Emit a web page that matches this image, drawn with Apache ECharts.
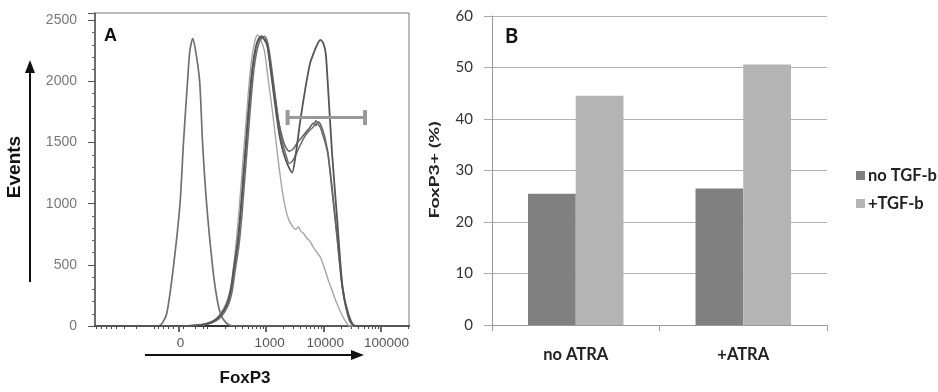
<!DOCTYPE html>
<html><head><meta charset="utf-8">
<script src="https://cdn.jsdelivr.net/npm/echarts@6/dist/echarts.min.js"></script>
<style>html,body{margin:0;padding:0;background:#fff}#c{width:938px;height:392px}</style>
</head><body><div id="c"></div>
<script>
// ---------- Panel A: FoxP3 histogram (x in display decades, 1000 ≈ 2.95) ----------
const ctrlX = [0, 1.05, 1.14, 1.24, 1.36, 1.47, 1.53, 1.60, 1.64, 1.69, 1.74, 1.81, 1.86, 1.93, 2.03, 2.10, 2.17, 2.26, 2.38, 5.43];
const ctrlY = [0, 0, 10, 100, 500, 1000, 1500, 2000, 2250, 2350, 2250, 2000, 1500, 1000, 500, 250, 100, 30, 0, 0];

const lightX = [0, 1.45, 1.70, 1.90, 2.05, 2.17, 2.28, 2.35, 2.40, 2.45, 2.50, 2.55, 2.60, 2.65, 2.70, 2.76, 2.81, 2.86, 2.93, 3.00, 3.07, 3.12, 3.17, 3.24, 3.30, 3.35, 3.41, 3.47, 3.52, 3.55, 3.60, 3.66, 3.72, 3.78, 3.84, 3.90, 3.97, 4.03, 4.10, 4.17, 4.26, 4.33, 4.40, 5.43];
const lightY = [0, 0, 5, 18, 45, 100, 200, 330, 500, 730, 1000, 1300, 1600, 1900, 2150, 2320, 2380, 2350, 2250, 2000, 1750, 1550, 1350, 1100, 950, 870, 820, 790, 810, 780, 760, 720, 690, 640, 600, 560, 470, 380, 290, 200, 100, 40, 0, 0];

const midX = [0, 1.50, 1.74, 1.91, 2.05, 2.17, 2.28, 2.35, 2.40, 2.47, 2.52, 2.57, 2.62, 2.67, 2.72, 2.78, 2.83, 2.88, 2.93, 2.98, 3.03, 3.09, 3.14, 3.19, 3.24, 3.29, 3.36, 3.43, 3.50, 3.57, 3.64, 3.71, 3.78, 3.82, 3.86, 3.90, 3.94, 3.98, 4.03, 4.10, 4.19, 4.28, 4.40, 4.50, 5.43];
const midY = [0, 0, 4, 14, 38, 85, 170, 290, 450, 680, 930, 1230, 1530, 1830, 2090, 2270, 2340, 2360, 2350, 2300, 2150, 1950, 1780, 1640, 1540, 1470, 1430, 1450, 1500, 1540, 1580, 1620, 1660, 1640, 1670, 1650, 1600, 1530, 1410, 1130, 725, 320, 50, 0, 0];

const mid2X = [0, 1.52, 1.76, 1.93, 2.07, 2.19, 2.30, 2.37, 2.42, 2.49, 2.54, 2.59, 2.64, 2.69, 2.74, 2.80, 2.86, 2.93, 2.98, 3.03, 3.08, 3.14, 3.19, 3.24, 3.29, 3.36, 3.43, 3.50, 3.57, 3.64, 3.71, 3.78, 3.82, 3.86, 3.90, 3.94, 3.98, 4.03, 4.10, 4.19, 4.28, 4.40, 4.50, 5.43];
const mid2Y = [0, 0, 4, 13, 36, 80, 165, 280, 440, 660, 900, 1200, 1500, 1800, 2060, 2250, 2340, 2370, 2330, 2200, 2020, 1800, 1620, 1500, 1420, 1330, 1360, 1430, 1500, 1560, 1600, 1630, 1680, 1650, 1620, 1560, 1500, 1400, 1100, 700, 300, 45, 0, 0];

const darkX = [0, 1.48, 1.74, 1.91, 2.05, 2.17, 2.28, 2.35, 2.40, 2.47, 2.52, 2.57, 2.62, 2.67, 2.72, 2.78, 2.83, 2.88, 2.93, 2.98, 3.03, 3.09, 3.14, 3.19, 3.24, 3.29, 3.35, 3.41, 3.47, 3.55, 3.64, 3.72, 3.78, 3.84, 3.90, 3.95, 3.99, 4.03, 4.10, 4.19, 4.28, 4.38, 4.50, 5.43];
const darkY = [0, 0, 5, 15, 40, 90, 180, 300, 470, 700, 950, 1250, 1550, 1850, 2100, 2280, 2350, 2370, 2340, 2290, 2120, 1900, 1720, 1560, 1450, 1370, 1300, 1255, 1400, 1680, 1950, 2150, 2230, 2300, 2340, 2310, 2230, 1950, 1410, 860, 320, 100, 0, 0];

// gate marker (FoxP3+ region)
const gateX = [3.33, 4.67];
const gateY = [1705, 1705];

// x axis ticks / labels (biexponential display)
const xMajorTicks = [1.45, 2.95, 3.95, 4.95];
const xLabelPos = [1.48, 3.02, 3.98, 5.04];
const xLabelText = ['0', '1000', '10000', '100000'];
const xMinorTicks = [0.017, 0.103, 0.190, 0.276, 0.362, 0.5, 0.707, 1.017, 1.086, 1.172, 1.259, 1.345,
  1.534, 1.741, 1.879, 1.948, 2.249, 2.425, 2.550, 2.647, 2.726, 2.793, 2.851, 2.902,
  3.251, 3.427, 3.552, 3.649, 3.728, 3.795, 3.853, 3.904,
  4.251, 4.427, 4.552, 4.649, 4.728, 4.795, 4.853, 4.904, 5.41];

// ---------- Panel B: FoxP3+ (%) bars ----------
const barCategories = ['no ATRA', '+ATRA'];
const noTGF = [25.5, 26.5];
const plusTGF = [44.5, 50.6];

const zip = (xs, ys) => xs.map((x, i) => [x, ys[i]]);

const fA = '"Liberation Sans", Arial, sans-serif';
const fB = 'Lato, "Open Sans", sans-serif';

const chart = echarts.init(document.getElementById('c'), null, {renderer: 'canvas'});

const lineSeries = (name, xs, ys, color, w) => ({
  name, type: 'line', xAxisIndex: 0, yAxisIndex: 0, data: zip(xs, ys),
  showSymbol: false, smooth: 0.25, lineStyle: {color, width: w}, itemStyle: {color}, z: 3
});

chart.setOption({
  animation: false,
  backgroundColor: '#fff',
  grid: [
    {left: 95, top: 13, width: 314, height: 313, show: true, borderColor: '#777', borderWidth: 1, backgroundColor: '#fff'},
    {left: 492, top: 16, width: 335, height: 309}
  ],
  xAxis: [
    {type: 'value', gridIndex: 0, min: 0, max: 5.43, position: 'bottom',
     axisLine: {show: true, onZero: false, lineStyle: {color: '#333', width: 2}},
     axisTick: {show: true, customValues: xMajorTicks, length: 6, lineStyle: {color: '#333', width: 1.5}},
     axisLabel: {show: true, customValues: xLabelPos, margin: 10, color: '#555', fontSize: 13.5, fontFamily: fA,
       formatter: v => { const i = xLabelPos.findIndex(p => Math.abs(p - v) < 1e-6); return i >= 0 ? xLabelText[i] : ''; }},
     splitLine: {show: false}},
    {type: 'value', gridIndex: 0, min: 0, max: 5.43, position: 'bottom', offset: 0,
     axisLine: {show: false},
     axisTick: {show: true, customValues: xMinorTicks, length: 3, lineStyle: {color: '#444', width: 1}},
     axisLabel: {show: false}, splitLine: {show: false}},
    {type: 'category', gridIndex: 1, data: barCategories,
     axisLine: {show: true, lineStyle: {color: '#999'}},
     axisTick: {show: true, length: 6, lineStyle: {color: '#999'}},
     axisLabel: {margin: 21, color: '#222', fontSize: 16.5, fontWeight: 'bold', fontFamily: fB}}
  ],
  yAxis: [
    {type: 'value', gridIndex: 0, min: 0, max: 2560, interval: 500,
     axisLine: {show: true, lineStyle: {color: '#555', width: 1.5}},
     axisTick: {show: true, length: 7, lineStyle: {color: '#555'}},
     minorTick: {show: true, splitNumber: 5, length: 3, lineStyle: {color: '#666'}},
     axisLabel: {margin: 18, color: '#777', fontSize: 14, fontFamily: fA, showMaxLabel: false,
       formatter: v => String(v)},
     splitLine: {show: false}},
    {type: 'value', gridIndex: 1, min: 0, max: 60, interval: 10,
     axisLine: {show: true, lineStyle: {color: '#999'}},
     axisTick: {show: true, length: 8, lineStyle: {color: '#aaa'}},
     axisLabel: {margin: 19, color: '#333', fontSize: 15, fontFamily: fB},
     splitLine: {show: true, lineStyle: {color: '#b0b0b0', width: 1}}}
  ],
  legend: {
    data: ['no TGF-b', '+TGF-b'], orient: 'vertical', left: 851, top: 162, itemGap: 11,
    itemWidth: 9, itemHeight: 9, icon: 'rect',
    textStyle: {color: '#222', fontSize: 16.5, fontWeight: 'bold', fontFamily: fB, padding: [0, 0, 0, -2]}
  },
  series: [
    lineSeries('ctrl', ctrlX, ctrlY, '#707070', 1.7),
    lineSeries('light', lightX, lightY, '#a5a5a5', 1.4),
    lineSeries('mid2', mid2X, mid2Y, '#6e6e6e', 1.5),
    lineSeries('mid', midX, midY, '#666', 1.6),
    lineSeries('dark', darkX, darkY, '#555', 1.8),
    {name: 'gate', type: 'line', xAxisIndex: 0, yAxisIndex: 0, data: zip(gateX, gateY),
     symbol: 'rect', symbolSize: [4, 15], showSymbol: true,
     lineStyle: {color: '#999', width: 3}, itemStyle: {color: '#999'}, z: 4},
    {name: 'no TGF-b', type: 'bar', xAxisIndex: 2, yAxisIndex: 1, data: noTGF,
     barGap: '0%', barCategoryGap: '43%', itemStyle: {color: '#808080'}},
    {name: '+TGF-b', type: 'bar', xAxisIndex: 2, yAxisIndex: 1, data: plusTGF,
     barGap: '0%', barCategoryGap: '43%', itemStyle: {color: '#b4b4b4'}}
  ],
  graphic: [
    {type: 'text', left: 104, top: 27, style: {text: 'A', font: 'bold 18px ' + fA, fill: '#111'}},
    {type: 'text', left: 505, top: 27, style: {text: 'B', font: 'bold 20px ' + fB, fill: '#111'}},
    {type: 'text', x: 15, y: 167, rotation: Math.PI / 2,
     style: {text: 'Events', font: 'bold 19px ' + fA, fill: '#111', align: 'center', verticalAlign: 'middle'}},
    {type: 'text', x: 245, y: 378,
     style: {text: 'FoxP3', font: 'bold 17px ' + fA, fill: '#111', align: 'center', verticalAlign: 'middle'}},
    {type: 'text', x: 435, y: 170, rotation: Math.PI / 2, scaleX: 1.5,
     style: {text: 'FoxP3+ (%)', font: 'bold 13px ' + fB, fill: '#222', align: 'center', verticalAlign: 'middle'}},
    {type: 'line', shape: {x1: 30, y1: 282, x2: 30, y2: 70}, style: {stroke: '#111', lineWidth: 2}},
    {type: 'polygon', shape: {points: [[30, 60], [25, 73], [35, 73]]}, style: {fill: '#111'}},
    {type: 'line', shape: {x1: 145, y1: 355, x2: 353, y2: 355}, style: {stroke: '#111', lineWidth: 2}},
    {type: 'polygon', shape: {points: [[364, 355], [351, 350], [351, 360]]}, style: {fill: '#111'}}
  ]
});
</script></body></html>
